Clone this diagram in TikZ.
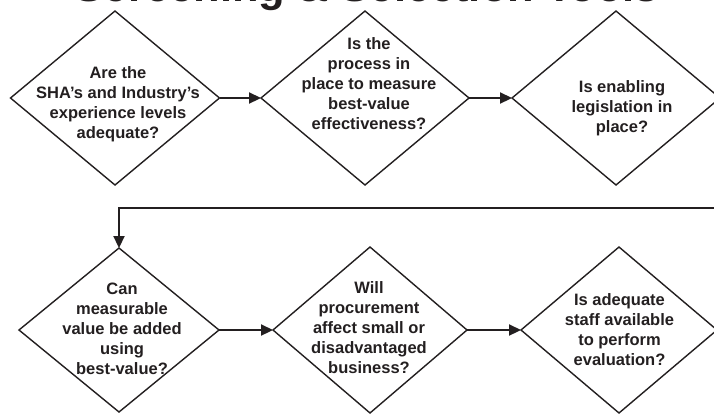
\documentclass[tikz,border=0pt]{standalone}
\usepackage{fontspec}
\setmainfont{Liberation Sans}
\usetikzlibrary{shapes.geometric,arrows.meta}
\definecolor{ink}{HTML}{231F20}
\begin{document}
\begin{tikzpicture}[x=1pt,y=-1pt,
  dia/.style={shape=diamond,draw=ink,line width=1.4pt,inner sep=0pt,outer sep=0pt},
  qtext/.style={align=center,text=ink,font=\bfseries\fontsize{16.5}{20}\selectfont,inner sep=0pt},
  flow/.style={draw=ink,line width=2.2pt,-{Triangle[length=12pt,width=11pt]}},
  ttl/.style={text=ink,font=\bfseries\fontsize{43.5}{48}\selectfont,inner sep=0pt}]
\useasboundingbox (0,0) rectangle (714,413);
\clip (0,0) rectangle (714,413);
\fill[white] (0,0) rectangle (714,413);
% title (cut by the top edge)
\node[ttl,anchor=base] (title) at (367,1.5) {Screening \& Selection Tools};
% row 1
\node[dia,minimum width=209pt,minimum height=174pt] (d1) at (115,98) {};
\node[dia,minimum width=208pt,minimum height=174pt] (d2) at (365,98) {};
\node[dia,minimum width=208pt,minimum height=174pt] (d3) at (616,98) {};
% row 2
\node[dia,minimum width=200pt,minimum height=164pt] (d4) at (119,330) {};
\node[dia,minimum width=194pt,minimum height=166pt] (d5) at (370,330) {};
\node[dia,minimum width=196pt,minimum height=166pt] (d6) at (619,330) {};
% texts
\node[qtext] (t1) at (118,104) {Are the\\SHA’s and Industry’s\\experience levels\\adequate?};
\node[qtext] (t2) at (369,84) {Is the\\process in\\place to measure\\best-value\\effectiveness?};
\node[qtext] (t3) at (622,108) {Is enabling\\legislation in\\place?};
\node[qtext] (t4) at (122,329) {Can\\measurable\\value be added\\using\\best-value?};
\node[qtext] (t5) at (369,328) {Will\\procurement\\affect small or\\disadvantaged\\business?};
\node[qtext] (t6) at (619.5,330) {Is adequate\\staff available\\to perform\\evaluation?};
% connectors
\draw[flow] (d1.east) -- (d2.west);
\draw[flow] (d2.east) -- (d3.west);
\draw[flow] (d4.east) -- (d5.west);
\draw[flow] (d5.east) -- (d6.west);
\coordinate (fb) at (730,208);
\draw[flow] (fb) -| (d4.north);
\end{tikzpicture}
\end{document}
